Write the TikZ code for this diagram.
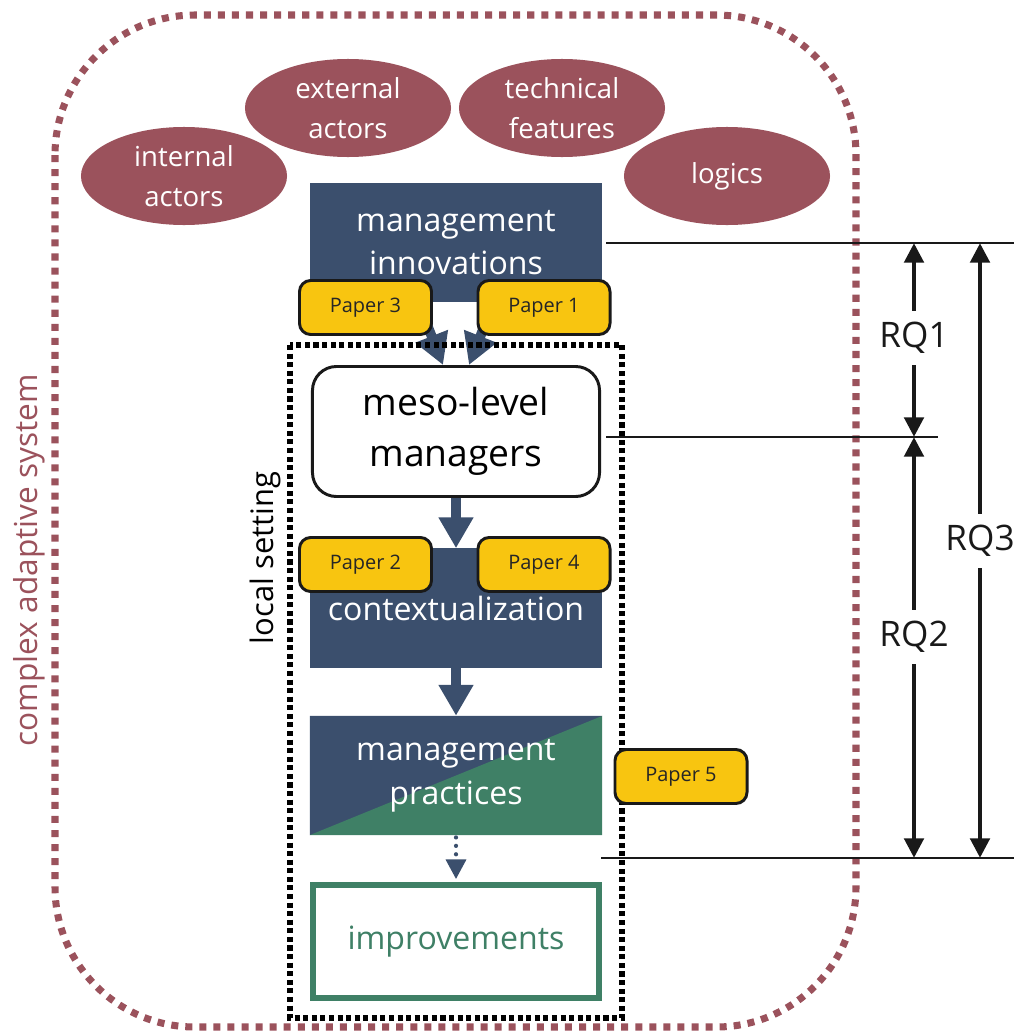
\documentclass[tikz,border=0pt]{standalone}
\usepackage{fontspec}
\setmainfont{Open Sans}
\usetikzlibrary{arrows.meta,shapes.geometric,backgrounds}
\definecolor{cas}{HTML}{9B525C}
\definecolor{navy}{HTML}{3B4F6D}
\definecolor{leaf}{HTML}{3F8066}
\definecolor{paper}{HTML}{F8C510}

\begin{document}
\begin{tikzpicture}[x=0.025cm,y=-0.025cm,
  box/.style={rectangle,fill=navy,text=white,minimum width=7.3cm,minimum height=2.975cm,align=center,font=\fontsize{22.8}{31}\selectfont},
  paperbox/.style={rectangle,rounded corners=0.28cm,draw=black!90,line width=2.1pt,fill=paper,text=black!85,minimum width=3.3cm,minimum height=1.35cm,font=\fontsize{14.2}{17}\selectfont},
  factor/.style={ellipse,fill=cas,text=white,minimum width=5.15cm,minimum height=2.45cm,inner sep=0pt,align=center,font=\fontsize{19.6}{28.3}\selectfont},
  flow/.style={draw=navy,line width=7pt,-{Triangle[width=23.5pt,length=22pt]}},
  rq/.style={line width=3.5pt,draw=black!90,-{Triangle[width=13.5pt,length=14pt]}},
  rqlabel/.style={inner sep=8pt,text=black!90,font=\fontsize{25}{29}\selectfont},
  level/.style={line width=1.4pt,draw=black!90}]

  \useasboundingbox (0,0) rectangle (1014,1032);

  % the system around everything
  \draw[cas,line width=5pt,dash pattern=on 5pt off 5pt,rounded corners=3.5cm] (55,15) rectangle (856,1027);
  \node[rotate=90,text=cas,font=\fontsize{22.5}{27}\selectfont] (system) at (29,560) {complex adaptive system};

  \begin{scope}[every node/.style={factor}]
    \node (internal) at (184,176) {internal\\actors};
    \node (external) at (348,108) {external\\actors};
    \node (technical) at (562,108) {technical\\features};
    \node (logics) at (727,176) {logics};
  \end{scope}

  % local setting
  \draw[line width=3.6pt,dash pattern=on 3.6pt off 2.5pt] (290,345) rectangle (622,1018);
  \node[rotate=90,font=\fontsize{22}{27}\selectfont] (local) at (265,558) {local setting};

  \node[box] (mi) at (456,242.5) {management\\innovations};
  \node[rectangle,rounded corners=0.6cm,draw=black!90,line width=2.1pt,fill=white,minimum width=7.175cm,minimum height=3.25cm,align=center,font=\fontsize{26.5}{36.5}\selectfont] (meso) at (456,431.5) {meso-level\\managers};
  \node[box] (ctx) at (456,608) {contextualization};
  \node[box,path picture={
      \fill[navy] (path picture bounding box.south west) -- (path picture bounding box.north west) -- (path picture bounding box.north east) -- cycle;
      \fill[leaf] (path picture bounding box.south west) -- (path picture bounding box.north east) -- (path picture bounding box.south east) -- cycle;}]
    (mp) at (456,775.5) {management\\practices};
  \node[rectangle,draw=leaf,line width=4.3pt,fill=white,text=leaf,minimum width=7.15cm,minimum height=2.825cm,font=\fontsize{22.8}{30.6}\selectfont] (imp) at (456,941.5) {improvements};

  \begin{scope}[every node/.style={paperbox}]
    \node (p3) at (365.5,307.5) {Paper 3};
    \node (p1) at (544,307.5) {Paper 1};
    \node (p2) at (365.5,564.5) {Paper 2};
    \node (p4) at (544,564.5) {Paper 4};
    \node (p5) at (681,776.5) {Paper 5};
  \end{scope}

  \coordinate (in3) at (413,289);
  \coordinate (in1) at (499,289);
  \begin{scope}[on background layer]
    \draw[flow] (in3) -- ([xshift=-0.325cm]meso.north);
    \draw[flow] (in1) -- ([xshift=0.325cm]meso.north);
  \end{scope}
  \draw[flow] (meso) -- (ctx);
  \draw[flow] (ctx) -- (mp);
  \draw[navy,line width=3pt,line cap=round,dash pattern=on 0pt off 6pt,-{Triangle[width=14pt,length=14pt]}] ([yshift=-1.5pt]mp.south) -- ([yshift=2pt]imp.north);

  % research questions
  \coordinate (l1a) at (606,243);
  \coordinate (l1b) at (1014,243);
  \coordinate (l2a) at (606,437);
  \coordinate (l2b) at (938,437);
  \coordinate (l3a) at (601,858);
  \coordinate (l3b) at (1014,858);
  \draw[level] (l1a) -- (l1b);
  \draw[level] (l2a) -- (l2b);
  \draw[level] (l3a) -- (l3b);

  \node[rqlabel] (rq1) at (914,338) {RQ1};
  \node[rqlabel] (rq2) at (914,637) {RQ2};
  \node[rqlabel] (rq3) at (980,541) {RQ3};
  \draw[rq] (rq1) -- (rq1 |- l1b);
  \draw[rq] (rq1) -- (rq1 |- l2b);
  \draw[rq] (rq2) -- (rq2 |- l2b);
  \draw[rq] (rq2) -- (rq2 |- l3b);
  \draw[rq] (rq3) -- (rq3 |- l1b);
  \draw[rq] (rq3) -- (rq3 |- l3b);
\end{tikzpicture}
\end{document}
